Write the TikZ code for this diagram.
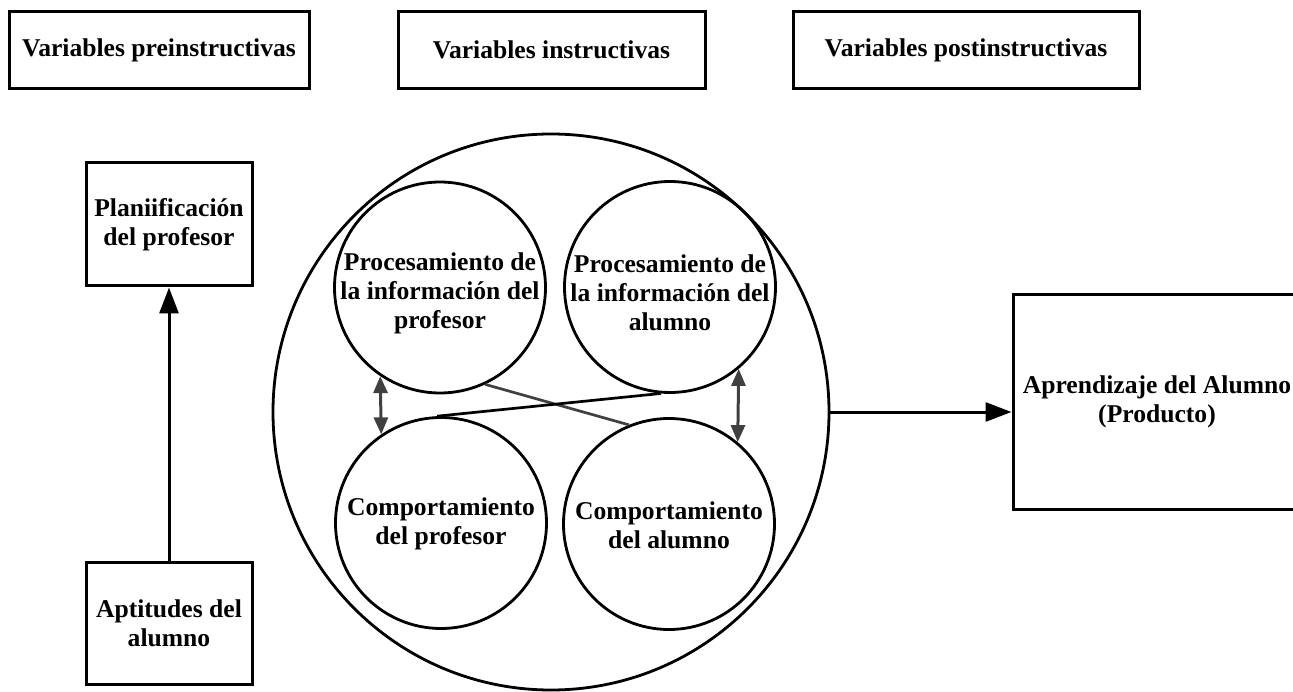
\documentclass[tikz,border=0pt]{standalone}
\usepackage{fontspec}
\setmainfont{Liberation Serif}
\usetikzlibrary{arrows.meta,shapes.geometric}
\definecolor{dgray}{RGB}{64,64,64}
\begin{document}
\begin{tikzpicture}[x=1pt,y=-1pt,
  txt/.style={font=\fontsize{25.6}{29}\selectfont\bfseries, align=center},
  rbox/.style={draw, line width=3pt, inner sep=0pt, txt},
  circ/.style={draw, circle, line width=2.8pt, minimum size=211pt, inner sep=0pt},
  bigc/.style={draw, circle, line width=2.8pt, minimum size=556pt, inner sep=0pt},
  bigarrow/.style={line width=3pt, -{Triangle[length=26pt,width=19pt]}},
  dblarrow/.style={draw=dgray, line width=3pt, {Triangle[length=17pt,width=14pt]}-{Triangle[length=17pt,width=14pt]}},
  link/.style={line width=2.7pt}
]
\useasboundingbox (0,0) rectangle (1293,692);
\clip (0,0) rectangle (1293,692);

% header boxes
\node[rbox, minimum width=300pt, minimum height=77pt] (h1) at (159,50) {Variables preinstructivas};
\node[rbox, minimum width=307pt, minimum height=77pt] (h2) at (551.5,50) {Variables instructivas};
\node[rbox, minimum width=346pt, minimum height=77pt] (h3) at (966,50) {Variables postinstructivas};

% left boxes
\node[rbox, minimum width=166pt, minimum height=123pt] (plan) at (169,224.5) {Planiificación\\del profesor};
\node[rbox, minimum width=166pt, minimum height=122pt] (apt) at (169,623) {Aptitudes del\\alumno};

% right box
\node[rbox, minimum width=288pt, minimum height=214pt] (apr) at (1157,402) {Aprendizaje del Alumno\\(Producto)};

% big circle
\node[bigc] (big) at (551,412) {};

% inner circles
\node[circ] (tl) at (440,287.5) {};
\node[circ] (tr) at (670,287) {};
\node[circ] (bl) at (441,523) {};
\node[circ] (br) at (669,524) {};
\node[txt] (tlt) at (440,293) {Procesamiento de\\la información del\\profesor};
\node[txt] (trt) at (670,293) {Procesamiento de\\la información del\\alumno};
\node[txt] (blt) at (441,524) {Comportamiento\\del profesor};
\node[txt] (brt) at (669,525) {Comportamiento\\del alumno};

% connectors
\draw[bigarrow] (apt.north) -- (plan.south);
\draw[bigarrow] (big.east) -- (apr.west |- big.east);
\draw[dblarrow] (tl.-124) -- (bl.124);
\draw[dblarrow] (tr.-50) -- (br.50);
\draw[link, draw=dgray] (tl.-65.5) -- (br.112);
\draw[link] (tr.-95) -- (bl.92);
\end{tikzpicture}
\end{document}
